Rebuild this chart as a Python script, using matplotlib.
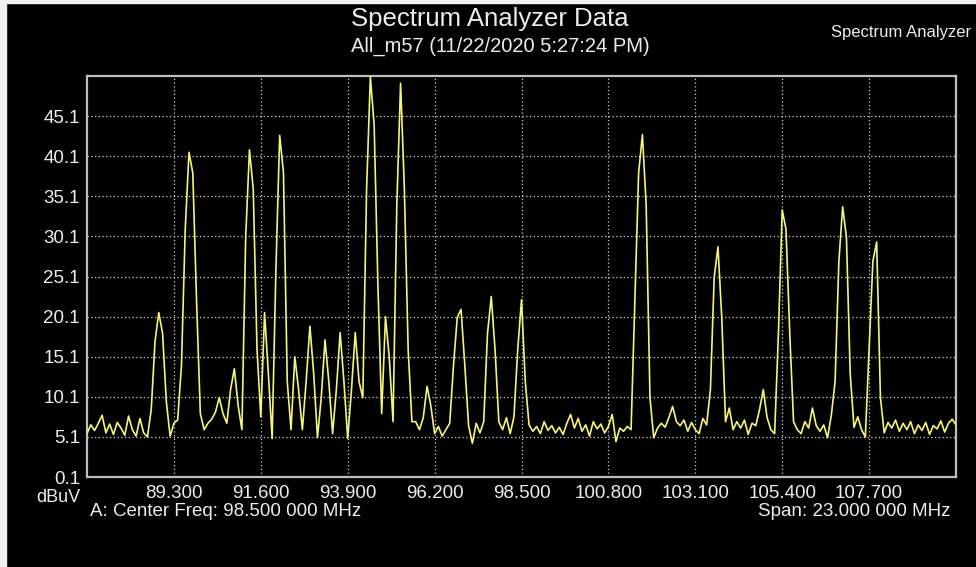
"""
频谱仪扫描数据：FM 广播频段 87-110 MHz 的电平曲线。
"""

import numpy as np
import matplotlib

matplotlib.use("Agg")
import matplotlib.pyplot as plt
from matplotlib.patches import Rectangle

plt.rcParams["font.family"] = ["Liberation Sans", "DejaVu Sans"]

# 扫描设置
CENTER_MHZ = 98.5
SPAN_MHZ = 23.0

# 电平读数 (dBuV)，87.0 MHz 起每 0.1 MHz 一个点
LEVEL_DBUV = [
    5.5, 6.6, 5.9, 6.8, 7.8, 5.6, 6.7, 5.4, 6.9, 6.2,        # 87.x
    5.3, 7.7, 6.0, 5.2, 7.4, 5.6, 5.1, 8.5, 17.0, 20.6,      # 88.x
    18.0, 9.5, 5.2, 6.8, 7.2, 14.0, 31.0, 40.6, 38.0, 22.0,  # 89.x
    8.0, 6.0, 6.8, 7.3, 8.2, 10.0, 8.0, 6.8, 11.0, 13.6,     # 90.x
    9.0, 6.0, 30.0, 40.9, 36.0, 16.0, 7.6, 20.6, 13.0, 4.9,  # 91.x
    26.0, 42.7, 38.0, 12.0, 6.0, 15.1, 11.0, 6.0, 12.0, 18.9,  # 92.x
    13.0, 5.0, 10.0, 17.2, 12.0, 5.5, 11.0, 18.1, 12.0, 4.9,  # 93.x
    11.0, 18.1, 12.0, 10.0, 36.0, 50.0, 44.0, 24.0, 8.0, 20.1,  # 94.x
    15.0, 7.0, 34.0, 49.2, 36.0, 16.0, 7.0, 7.0, 6.0, 7.5,   # 95.x
    11.4, 9.0, 5.5, 6.4, 5.2, 6.0, 6.8, 14.0, 20.0, 21.0,    # 96.x
    14.0, 6.5, 4.3, 6.8, 5.6, 7.0, 18.0, 22.6, 16.0, 7.0,    # 97.x
    6.0, 7.5, 5.5, 7.6, 16.0, 22.2, 12.0, 6.6, 5.8, 6.4,     # 98.x
    5.5, 7.0, 5.9, 6.5, 5.6, 6.3, 5.4, 6.8, 7.9, 6.2,        # 99.x
    7.4, 5.8, 6.6, 5.2, 7.0, 6.1, 6.7, 5.6, 6.4, 7.9,        # 100.x
    4.5, 6.2, 5.8, 6.4, 6.0, 22.0, 38.0, 42.8, 34.0, 10.0,   # 101.x
    5.0, 6.2, 6.8, 6.3, 7.5, 8.9, 7.0, 6.5, 7.2, 5.8,        # 102.x
    6.9, 6.0, 5.5, 7.4, 6.6, 11.0, 25.0, 28.8, 20.0, 7.0,    # 103.x
    8.7, 6.0, 7.0, 6.2, 7.2, 5.4, 6.8, 6.5, 8.5, 11.0,       # 104.x
    7.5, 6.0, 5.5, 18.0, 33.4, 31.0, 18.0, 7.0, 6.0, 5.5,    # 105.x
    7.0, 6.2, 8.7, 6.5, 5.8, 6.6, 5.0, 7.8, 12.0, 27.0,      # 106.x
    33.8, 30.0, 13.0, 6.3, 7.6, 6.0, 5.1, 16.0, 27.0, 29.4,  # 107.x
    10.0, 5.6, 6.9, 6.2, 7.2, 5.8, 6.8, 6.0, 7.0, 5.5,       # 108.x
    6.6, 5.9, 6.9, 5.4, 6.5, 6.1, 7.1, 5.7, 6.8, 7.3,        # 109.x
    6.6,                                                     # 110.0
]

X_TICKS = [89.3, 91.6, 93.9, 96.2, 98.5, 100.8, 103.1, 105.4, 107.7]
Y_TICKS = [0.1, 5.1, 10.1, 15.1, 20.1, 25.1, 30.1, 35.1, 40.1, 45.1]
Y_MIN, Y_MAX = 0.1, 50.1

TEXT_COLOR = "#ececec"
TRACE_COLOR = "#f4f47c"

f_start = CENTER_MHZ - SPAN_MHZ / 2
f_stop = CENTER_MHZ + SPAN_MHZ / 2
freqs = np.linspace(f_start, f_stop, len(LEVEL_DBUV))

W, H = 976, 567
fig = plt.figure(figsize=(W / 100, H / 100), dpi=100)
fig.patch.set_facecolor("black")

# 截图边缘的浅色边
fig.patches.append(Rectangle((0, 0), 6 / W, 1, transform=fig.transFigure,
                             color="#f0f0f0", zorder=0))
fig.patches.append(Rectangle((0, 1 - 3 / H), 1, 3 / H, transform=fig.transFigure,
                             color="#f0f0f0", zorder=0))

ax = fig.add_axes([87 / W, 1 - 477 / H, 869 / W, 401 / H])
ax.set_facecolor("black")
ax.plot(freqs, LEVEL_DBUV, color=TRACE_COLOR, linewidth=1.2, zorder=3)

ax.set_xlim(f_start, f_stop)
ax.set_ylim(Y_MIN, Y_MAX)
ax.set_xticks(X_TICKS)
ax.set_xticklabels([f"{t:.3f}" for t in X_TICKS])
ax.set_yticks(Y_TICKS)
ax.set_yticklabels([f"{t:.1f}" for t in Y_TICKS])
ax.tick_params(axis="both", length=0, labelsize=13.5, colors=TEXT_COLOR)
ax.tick_params(axis="x", pad=6)
ax.tick_params(axis="y", pad=5)
ax.grid(True, color="#d0d0d0", linestyle=(0, (1, 2)), linewidth=0.9)
for s in ax.spines.values():
    s.set_color("#bdbdbd")
    s.set_linewidth(1.6)

fig.text(490 / W, 1 - 19 / H, "Spectrum Analyzer Data", ha="center", va="center",
         fontsize=18.5, color=TEXT_COLOR)
fig.text(500 / W, 1 - 46 / H, "All_m57 (11/22/2020 5:27:24 PM)", ha="center",
         va="center", fontsize=14.5, color=TEXT_COLOR)
fig.text(831 / W, 1 - 33 / H, "Spectrum Analyzer", ha="left", va="center",
         fontsize=12, color=TEXT_COLOR)
fig.text(80 / W, 1 - 497 / H, "dBuV", ha="right", va="center",
         fontsize=13, color=TEXT_COLOR)
fig.text(90 / W, 1 - 511 / H, "A: Center Freq: 98.500 000 MHz", ha="left",
         va="center", fontsize=13.5, color=TEXT_COLOR)
fig.text(950 / W, 1 - 511 / H, "Span: 23.000 000 MHz", ha="right",
         va="center", fontsize=13.5, color=TEXT_COLOR)

fig.savefig("out.png", dpi=100, facecolor=fig.get_facecolor())
